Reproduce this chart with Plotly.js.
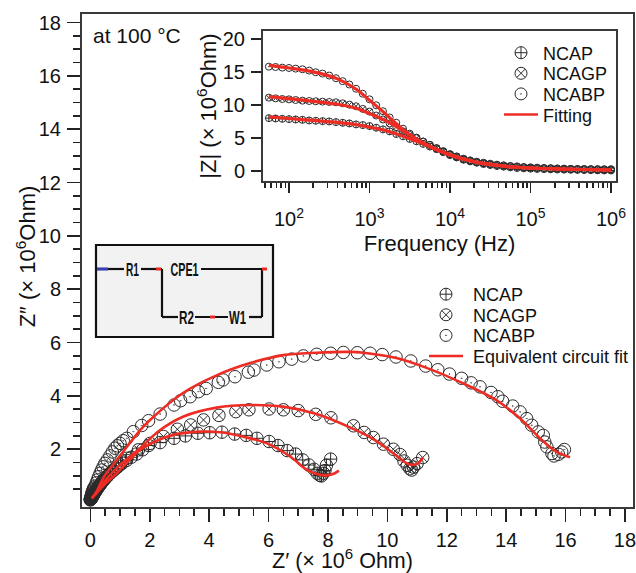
<!DOCTYPE html>
<html><head><meta charset="utf-8">
<script src="https://cdn.plot.ly/plotly-3.0.1.min.js"></script>
<style>html,body{margin:0;padding:0;background:#fff}#c{width:636px;height:573px}</style>
</head><body><div id="c"></div>
<script>
// Nyquist data (x 10^6 Ohm)
const ncapRe=[0.0,0.01,0.02,0.03,0.04,0.05,0.07,0.09,0.11,0.14,0.17,0.2,0.24,0.28,0.33,0.38,0.44,0.5,0.57,0.65,0.74,0.84,0.95,1.08,1.22,1.38,1.56,1.76,1.96,2.35,2.82,3.2,3.62,4.02,4.43,4.86,5.25,5.61,6.02,6.32,6.63,6.91,7.15,7.36,7.53,7.64,7.73,7.78,7.85,7.9,7.95,8.09];
const ncapIm=[0.1,0.12,0.13,0.15,0.17,0.19,0.23,0.27,0.3,0.36,0.41,0.46,0.53,0.59,0.66,0.74,0.82,0.9,0.99,1.08,1.17,1.27,1.37,1.48,1.58,1.7,1.82,1.98,2.14,2.25,2.41,2.5,2.6,2.62,2.64,2.57,2.52,2.41,2.29,2.14,1.95,1.82,1.6,1.41,1.25,1.1,1.02,1.0,1.1,1.2,1.4,1.63];
const ncagpRe=[0.0,0.02,0.03,0.05,0.06,0.08,0.1,0.13,0.16,0.19,0.23,0.27,0.32,0.37,0.43,0.5,0.58,0.67,0.77,0.88,1.0,1.23,1.62,2.01,2.46,2.93,3.38,3.81,4.33,4.9,5.34,6.02,6.5,7.0,7.59,8.1,8.86,9.22,9.53,9.87,10.2,10.43,10.56,10.67,10.76,10.82,10.88,11.0,11.19];
const ncagpIm=[0.12,0.13,0.15,0.18,0.2,0.24,0.28,0.33,0.39,0.45,0.52,0.58,0.66,0.73,0.82,0.91,1.0,1.1,1.2,1.3,1.42,1.66,1.98,2.22,2.48,2.75,2.91,3.1,3.27,3.41,3.48,3.51,3.48,3.45,3.31,3.18,2.88,2.63,2.44,2.19,2.0,1.8,1.56,1.4,1.27,1.22,1.33,1.46,1.69];
const ncabpRe=[0.0,0.01,0.02,0.03,0.04,0.05,0.06,0.08,0.1,0.12,0.16,0.2,0.24,0.28,0.33,0.38,0.43,0.49,0.57,0.66,0.74,0.83,0.91,1.0,1.11,1.23,1.45,1.73,1.96,2.35,2.82,3.04,3.36,3.64,3.9,4.31,4.47,4.87,5.32,5.51,5.94,6.35,6.78,7.17,7.62,8.09,8.52,8.99,9.42,9.83,10.29,10.79,11.29,11.7,12.09,12.5,12.82,13.12,13.49,13.72,13.88,14.22,14.47,14.69,14.86,15.08,15.25,15.3,15.37,15.54,15.61,15.76,15.87,15.96];
const ncabpIm=[0.13,0.16,0.2,0.24,0.28,0.33,0.38,0.44,0.5,0.55,0.62,0.74,0.85,0.97,1.1,1.22,1.34,1.47,1.6,1.75,1.9,2.04,2.13,2.22,2.32,2.41,2.66,2.89,3.07,3.32,3.66,3.82,3.97,4.16,4.28,4.51,4.6,4.72,4.89,4.97,5.16,5.28,5.38,5.5,5.56,5.6,5.63,5.62,5.6,5.55,5.46,5.31,5.12,4.98,4.82,4.66,4.49,4.34,4.13,3.97,3.8,3.62,3.4,3.15,2.9,2.65,2.52,2.27,2.09,1.84,1.75,1.81,1.9,1.99];
const fitNcapRe=[0.05,0.2,0.45,0.89,1.68,2.24,2.8,3.7,4.38,5.16,5.95,6.74,7.3,7.75,8.09,8.37];
const fitNcapIm=[0.16,0.34,0.65,1.1,1.98,2.32,2.54,2.66,2.64,2.47,2.22,1.72,1.22,1.04,1.04,1.2];
const fitNcagpRe=[0.05,0.2,0.45,0.89,1.68,2.35,3.12,4.25,5.38,6.49,7.62,8.74,9.5,10.2,10.7,11.0,11.2];
const fitNcagpIm=[0.16,0.38,0.76,1.29,2.05,2.72,3.22,3.56,3.66,3.6,3.32,2.82,2.4,1.85,1.45,1.45,1.7];
const fitNcabpRe=[0.05,0.21,0.45,0.89,1.68,2.01,3.12,4.27,5.38,6.49,7.63,8.74,9.2,10.3,11.3,12.5,13.67,14.47,15.15,15.7,16.15];
const fitNcabpIm=[0.16,0.41,0.95,1.6,2.72,3.1,4.11,4.78,5.23,5.53,5.62,5.65,5.62,5.42,5.06,4.5,3.84,3.15,2.4,1.9,1.7];
// Bode magnitude data
const freq=[56.2,68.1,82.5,100,121,147,178,215,261,316,383,464,562,681,825,1000,1210,1470,1780,2150,2610,3160,3830,4640,5620,6810,8250,10000,12100,14700,17800,21500,26100,31600,38300,46400,56200,68100,82500,100000,121000,147000,178000,215000,261000,316000,383000,464000,562000,681000,825000,1000000];
const zNcap=[8.0,7.95,7.9,7.85,7.8,7.75,7.65,7.6,7.55,7.5,7.4,7.3,7.2,7.05,6.95,6.8,6.55,6.3,6.0,5.6,5.25,4.85,4.5,4.1,3.7,3.3,2.85,2.4,2.05,1.7,1.45,1.25,1.05,0.9,0.75,0.65,0.55,0.45,0.4,0.35,0.3,0.28,0.25,0.22,0.2,0.18,0.16,0.14,0.12,0.1,0.08,0.07];
const zNcagp=[11.1,11.0,10.9,10.85,10.75,10.65,10.6,10.55,10.5,10.45,10.4,10.25,10.05,9.8,9.4,9.0,8.4,7.8,7.2,6.65,6.0,5.45,4.95,4.45,3.95,3.45,2.95,2.5,2.15,1.8,1.55,1.35,1.15,1.0,0.9,0.8,0.7,0.6,0.55,0.5,0.45,0.42,0.38,0.35,0.32,0.3,0.28,0.26,0.25,0.22,0.2,0.2];
const zNcabp=[15.8,15.75,15.65,15.6,15.5,15.4,15.2,14.95,14.75,14.45,14.05,13.6,13.1,12.45,11.7,10.85,9.95,9.05,8.1,7.3,6.4,5.65,5.05,4.45,3.95,3.45,3.0,2.55,2.2,1.85,1.6,1.4,1.25,1.1,0.95,0.85,0.75,0.7,0.6,0.55,0.5,0.45,0.42,0.38,0.35,0.32,0.3,0.3,0.28,0.28,0.27,0.27];
const fitFreq=[56.2,100,200,400,700,1000,1500,2000,3000,5000,10000,20000,50000,100000,1000000];
const fitNcap=[8.2,7.95,7.65,7.35,7.0,6.65,6.2,5.75,5.0,3.95,2.4,1.4,0.7,0.45,0.15];
const fitNcagp=[11.25,10.95,10.55,10.1,9.45,8.7,7.75,6.95,5.6,4.05,2.45,1.4,0.7,0.45,0.15];
const fitNcabp=[16.0,15.6,15.0,13.95,12.3,10.7,8.9,7.5,5.7,4.0,2.45,1.4,0.7,0.45,0.15];
const xTicks=[0,2,4,6,8,10,12,14,16,18];
const yTicks=[2,4,6,8,10,12,14,16,18];
const yMinor=[0.5,1,1.5,2.5,3,3.5,4.5,5,5.5,6.5,7,7.5,8.5,9,9.5,10.5,11,11.5,12.5,13,13.5,14.5,15,15.5,16.5,17,17.5];
const insetYTicks=[0,5,10,15,20];
const insetXTicks=[100,1000,10000,100000,1000000];
const insetXLabels=['10<sup>2</sup>','10<sup>3</sup>','10<sup>4</sup>','10<sup>5</sup>','10<sup>6</sup>'];

const W=636,H=573,FONT='"Liberation Sans",Arial,sans-serif',INK='#111',LINE='#3a3a3a',TICK='#222',RED='#ee2c24';
const fx=p=>p/W, fy=p=>1-p/H;
const mk=(sym,size)=>({symbol:sym,size:size,color:'#2a2a2a',line:{color:'#2a2a2a',width:1}});
const main=(n,x,y,sym)=>({type:'scatter',mode:'markers',name:n,x:x,y:y,marker:mk(sym,12.5),legend:'legend',xaxis:'x',yaxis:'y'});
const mfit=(x,y,show)=>({type:'scatter',mode:'lines',name:'Equivalent circuit fit',x:x,y:y,line:{color:RED,width:2.6,shape:'spline'},showlegend:show,legend:'legend',xaxis:'x',yaxis:'y'});
const ins=(n,y,sym)=>({type:'scatter',mode:'markers',name:n,x:freq,y:y,marker:mk(sym,7),legend:'legend2',xaxis:'x2',yaxis:'y2'});
const ifit=(y,show)=>({type:'scatter',mode:'lines',name:'Fitting',x:fitFreq,y:y,line:{color:RED,width:3.2,shape:'spline'},showlegend:show,legend:'legend2',xaxis:'x2',yaxis:'y2'});
const traces=[
 main('NCAP',ncapRe,ncapIm,'circle-cross-open'),
 main('NCAGP',ncagpRe,ncagpIm,'circle-x-open'),
 main('NCABP',ncabpRe,ncabpIm,'circle-open-dot'),
 mfit(fitNcapRe,fitNcapIm,true),mfit(fitNcagpRe,fitNcagpIm,false),mfit(fitNcabpRe,fitNcabpIm,false),
 ins('NCAP',zNcap,'circle-cross-open'),
 ins('NCAGP',zNcagp,'circle-x-open'),
 ins('NCABP',zNcabp,'circle-open-dot'),
 ifit(fitNcap,true),ifit(fitNcagp,false),ifit(fitNcabp,false)
];

const wire=(x0,y0,x1,y1,c,w)=>({type:'line',xref:'paper',yref:'paper',x0:fx(x0),x1:fx(x1),y0:fy(y0),y1:fy(y1),line:{color:c||'#111',width:w||2.2},layer:'above'});
const shapes=[
 {type:'rect',xref:'paper',yref:'paper',x0:fx(96),x1:fx(273),y0:fy(245),y1:fy(337),fillcolor:'#f2f2f2',line:{color:'#111',width:2.2},layer:'above'},
 wire(97,269,124,269),wire(141,269,162,269),wire(201,269,266,269),
 wire(162,269,162,317),wire(262,269,262,317),
 wire(162,317,178,317),wire(195,317,228,317),wire(249,317,262,317),
 wire(97,269,108,269,'#3b3fb5',3),wire(156,269,161,269,RED,3),wire(262,269,267,269,RED,3),wire(210,317,215,317,RED,3)
];
const circuitLabels=[['R1',132,270,13],['CPE1',184,270,28],['R2',186,318,15],['W1',238,318,17]];
const lab=(t,x,y)=>({text:t,xref:'paper',yref:'paper',x:fx(x),y:fy(y),xanchor:'center',yanchor:'middle',showarrow:false,font:{family:FONT,size:18,weight:'bold',color:'#111'}});
const annotations=circuitLabels.map(c=>lab(c[0],c[1],c[2])).concat([
 {text:'at 100 °C',xref:'paper',yref:'paper',x:fx(91),y:fy(36),xanchor:'left',yanchor:'middle',showarrow:false,font:{family:FONT,size:21,color:INK}}
]);
const tf=s=>({family:FONT,size:s,color:INK});
const axisBase={showline:true,mirror:true,linecolor:LINE,linewidth:2,ticks:'outside',tickcolor:TICK,tickwidth:1.6,showgrid:false,zeroline:false,tickfont:tf(20),ticklabeloverflow:'allow'};
const layout={
 width:W,height:H,margin:{l:0,r:0,t:0,b:0},paper_bgcolor:'#fff',plot_bgcolor:'#fff',font:{family:FONT,color:INK},
 xaxis:Object.assign({},axisBase,{domain:[fx(82),fx(633)],range:[-0.28,18.27],anchor:'y',tickmode:'array',tickvals:xTicks,ticklen:13,ticklabelstandoff:1,
   minor:{dtick:0.5,ticks:'outside',ticklen:7,tickcolor:TICK,tickwidth:1.6,showgrid:false},
   title:{text:'Z′ (× 10<sup>6</sup> Ohm)',font:tf(21.5),standoff:8}}),
 yaxis:Object.assign({},axisBase,{domain:[fy(507),fy(14)],range:[-0.165,18.32],anchor:'x',tickmode:'array',tickvals:yTicks,ticklen:13,ticklabelstandoff:2,
   minor:{tickmode:'array',tickvals:yMinor,ticks:'outside',ticklen:7,tickcolor:TICK,tickwidth:1.6,showgrid:false},
   title:{text:'Z″ (× 10<sup>6</sup>Ohm)',font:tf(22),standoff:2}}),
 xaxis2:Object.assign({},axisBase,{type:'log',domain:[fx(263),fx(616)],range:[1.677,6.062],anchor:'y2',tickmode:'array',tickvals:insetXTicks,ticktext:insetXLabels,ticklen:10,ticklabelstandoff:9,
   minor:{dtick:'D1',ticks:'outside',ticklen:5,tickcolor:TICK,tickwidth:1.6,showgrid:false},
   title:{text:'Frequency (Hz)',font:tf(22),standoff:7}}),
 yaxis2:Object.assign({},axisBase,{domain:[fy(181),fy(31)],range:[-1.52,21.2],anchor:'x2',tickmode:'array',tickvals:insetYTicks,ticklen:10,ticklabelstandoff:2,
   title:{text:'|Z| (× 10<sup>6</sup>Ohm)',font:tf(22),standoff:2}}),
 legend:{x:fx(424),y:fy(276),xanchor:'left',yanchor:'top',bgcolor:'rgba(0,0,0,0)',borderwidth:0,itemwidth:34,itemsizing:'constant',tracegroupgap:0,font:tf(18),traceorder:'normal'},
 legend2:{x:fx(499),y:fy(34.5),xanchor:'left',yanchor:'top',bgcolor:'rgba(0,0,0,0)',borderwidth:0,itemwidth:34,itemsizing:'constant',tracegroupgap:0,font:tf(18),traceorder:'normal'},
 shapes:shapes,annotations:annotations,showlegend:true
};
Plotly.newPlot('c',traces,layout,{displayModeBar:false,staticPlot:true}).then(gd=>{
 // Tighten legend rows and marker strokes to the reference's spacing
 ['legend','legend2'].forEach((id,k)=>{
  const g=gd.querySelector('g.'+id); if(!g) return;
  const rows=[...g.querySelectorAll('g.traces')];
  const m=/translate\(\s*([\d.\-]+)[ ,]+([\d.\-]+)/.exec(rows[0].getAttribute('transform'));
  rows.forEach((r,i)=>r.setAttribute('transform','translate('+m[1]+','+(parseFloat(m[2])+i*20.6)+')'));
  g.querySelectorAll('.legendtext').forEach(t=>t.setAttribute('x',parseFloat(t.getAttribute('x'))+5));
  g.querySelectorAll('.legendpoints path.scatterpts').forEach(p=>{p.style.strokeWidth='1px';});
  g.querySelectorAll('.legendlines path').forEach(p=>{p.style.strokeWidth='2.6px';});
 });
 // Condensed lettering of the circuit labels
 [...gd.querySelectorAll('.annotation-text')].slice(0,circuitLabels.length).forEach((t,i)=>{
  t.setAttribute('textLength',circuitLabels[i][3]);t.setAttribute('lengthAdjust','spacingAndGlyphs');
 });
 // Axis titles sit off-centre in the reference
 const nudge=(sel,dx,dy)=>{const t=gd.querySelector(sel); if(t) t.setAttribute('transform','translate('+dx+','+dy+') '+(t.getAttribute('transform')||''));};
 nudge('.xtitle',-15,0);
 nudge('.ytitle',5,-4);
 nudge('.y2title',2,0);
});
</script></body></html>
